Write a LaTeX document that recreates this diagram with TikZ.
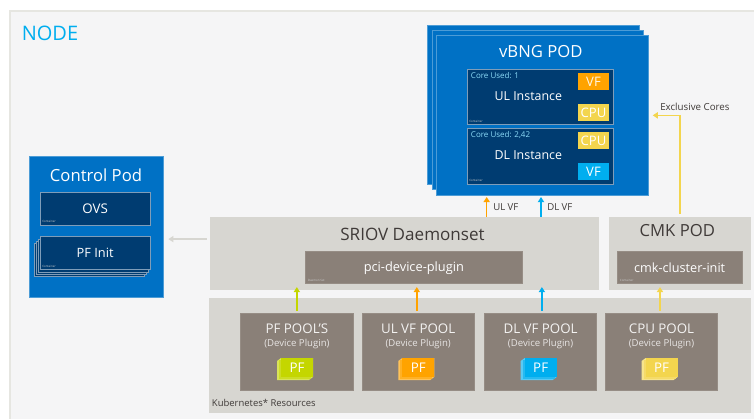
\documentclass[tikz,border=0pt]{standalone}
\usepackage{fontspec}
\setmainfont{Open Sans}
\usetikzlibrary{arrows.meta}

\definecolor{podblue}{HTML}{0071C5}
\definecolor{navy}{HTML}{003C71}
\definecolor{navyline}{HTML}{7F9DB9}
\definecolor{stone}{HTML}{D7D6D1}
\definecolor{taupe}{HTML}{8A8078}
\definecolor{frameline}{HTML}{E6E6E1}
\definecolor{nodebg}{HTML}{F5F5F6}
\definecolor{vforange}{HTML}{FFA300}
\definecolor{cpuyellow}{HTML}{F3D54E}
\definecolor{vfblue}{HTML}{00AEEF}
\definecolor{pfgreen}{HTML}{C4D600}
\definecolor{inktext}{HTML}{3F3A38}

\tikzset{
  box/.style 2 args={anchor=north west, inner sep=0pt, outer sep=0pt,
    minimum width=#1*0.75pt, minimum height=#2*0.75pt},
  txt/.style={inner sep=0pt, font=\fontsize{#1}{#1}\selectfont},
  pod/.style={fill=podblue, draw=podblue!70!white, line width=0.4pt},
  inst/.style={fill=navy, draw=navyline, line width=0.7pt, text=white},
  grey/.style={fill=taupe, draw=taupe!90!white, line width=0.4pt, text=white},
  tiny/.style={inner sep=0pt, anchor=west, font=\fontsize{2.2}{2.2}\selectfont, text=white!80!black},
  flow/.style={-{Triangle[width=4.6pt,length=3.8pt]}, line width=1.1pt},
}

\begin{document}
\begin{tikzpicture}[x=0.75pt,y=-0.75pt]

    \useasboundingbox (0,0) rectangle (754,419);
    \fill[white] (0,0) rectangle (754,419);

    % node frame
    \fill[frameline] (9,10) rectangle (754,419);
    \fill[nodebg] (11,12) rectangle (754,419);
    \node[txt=15, anchor=west, text=vfblue] (nodettl) at (21.5,33) {NODE};

    % vBNG pod
    \foreach \name/\sx/\sy in {vbngc/427.3/25,vbngb/431.8/30.4}
      \node[box={211.8}{159.3}, pod] (\name) at (\sx,\sy) {};
    \node[box={212}{159.3}, pod] (vbng) at (436.3,35.7) {};
    \node[txt=12.5, text=white] (vbngttl) at (540.8,51.7) {vBNG POD};

    \node[box={146}{55.4}, inst] (ulinst) at (467.3,69.3) {};
    \node[box={146}{55.7}, inst] (dlinst) at (467.3,128.3) {};
    \node[txt=9.3, text=white] (ulttl) at (528.3,96) {UL Instance};
    \node[txt=9.3, text=white] (dlttl) at (528.3,154.7) {DL Instance};
    \node[txt=6, anchor=west, text=vfblue!45!white] (ulcore) at (470.7,76) {Core Used: 1};
    \node[txt=6, anchor=west, text=vfblue!45!white] (dlcore) at (470.7,135) {Core Used: 2,42};
    \node[tiny] (ulcont) at (469,121.7) {Container};
    \node[tiny] (dlcont) at (469,180.3) {Container};

    \node[box={31.6}{17.3}, fill=vforange, font=\fontsize{9.8}{10}\selectfont, text=white!90!vforange] (ulvf) at (577.7,73) {VF};
    \node[box={31.6}{17.3}, fill=cpuyellow, font=\fontsize{9.8}{10}\selectfont, text=white] (ulcpu) at (577.7,103.7) {CPU};
    \node[box={31.6}{17.3}, fill=cpuyellow, font=\fontsize{9.8}{10}\selectfont, text=white] (dlcpu) at (577.7,132) {CPU};
    \node[box={31.6}{17.3}, fill=vfblue, font=\fontsize{9.8}{10}\selectfont, text=white] (dlvf) at (577.7,162.7) {VF};

    % control pod
    \node[box={134.4}{141}, pod] (ctrl) at (29.3,156.7) {};
    \node[txt=12.5, text=white] (ctrlttl) at (96,175.3) {Control Pod};
    \node[box={110.3}{33.7}, inst, font=\fontsize{10}{10}\selectfont] (ovs) at (40,192) {OVS};
    \node[tiny] (ovscont) at (42,221) {Container};
    \foreach \name/\sx/\sy in {pfinitc/34/243.7,pfinitb/36/241.4,pfinita/38/239}
      \node[box={110.3}{33}, inst, line width=0.5pt] (\name) at (\sx,\sy) {};
    \node[box={110.3}{33}, inst, font=\fontsize{9.6}{10}\selectfont] (pfinit) at (40,236.7) {PF Init};
    \node[tiny] (pfcont) at (42,266.5) {Container};

    % sriov daemonset
    \node[box={389.3}{73.3}, fill=stone] (sriov) at (209.7,216.7) {};
    \node[txt=12.8, text=inktext] (sriovttl) at (412.5,234) {SRIOV Daemonset};
    \node[box={216.3}{32}, grey, font=\fontsize{9.6}{10}\selectfont] (pci) at (305.7,251.7) {pci-device-plugin};
    \node[tiny] (pcicont) at (307.7,280.7) {Daemon Set};

    % cmk pod
    \node[box={142}{73.3}, fill=stone] (cmk) at (609,216.7) {};
    \node[txt=12.5, text=inktext] (cmkttl) at (677.3,231) {CMK POD};
    \node[box={124.7}{32.4}, grey, font=\fontsize{9.5}{10}\selectfont] (cmkinit) at (617.3,251.3) {cmk-cluster-init};
    \node[tiny] (cmkcont) at (619.7,280.7) {Container};

    % kubernetes resources
    \node[box={542}{115.6}, fill=stone] (kube) at (209,297.7) {};
    \node[txt=7.1, anchor=west, text=inktext] (kubettl) at (211.7,403.3) {Kubernetes* Resources};

    \foreach \pname/\px/\ptitle/\pcol in {poolpf/240.7/PF POOL'S/pfgreen,
        poolul/362/UL VF POOL/vforange,
        pooldl/484.4/DL VF POOL/vfblue,
        poolcpu/605.3/CPU POOL/cpuyellow} {
      \node[box={112.3}{77.4}, grey] (\pname) at (\px,313.3) {};
      \node[txt=10, text=white!90!taupe] (\pname ttl) at (\px+56.2,329) {\ptitle};
      \node[txt=7.2, text=white!80!taupe] (\pname sub) at (\px+56.2,343.7) {(Device Plugin)};
      \begin{scope}[shift={(\px+40.3,358)}]
        \fill[\pcol!65!white] (-4,3) -- (0,0) -- (32,0) -- (32,19) -- (28,22) -- (-4,22) -- cycle;
        \fill[\pcol!85!white] (-2,1.5) rectangle (30,20.5);
        \node[box={32}{18.7}, fill=\pcol, text=white, font=\fontsize{10}{10}\selectfont] (\pname chip) at (0,0) {PF};
      \end{scope}
    }

    % connectors
    \draw[flow, stone, shorten <=2.2pt, shorten >=3.5pt] ([yshift=10.7pt]sriov.west) -- ([yshift=10.7pt]sriov.west -| ctrl.east);
    \draw[flow, pfgreen, shorten <=1.9pt, shorten >=-2.2pt] (poolpf.north) -- (poolpf.north |- sriov.south);
    \draw[flow, vforange, shorten <=1.9pt, shorten >=-2.2pt] ([xshift=-1pt]poolul.north) -- ([xshift=-1pt]poolul.north |- sriov.south);
    \draw[flow, vfblue, shorten <=1.9pt, shorten >=-2.2pt] ([xshift=1pt]pooldl.north) -- ([xshift=1pt]pooldl.north |- sriov.south);
    \draw[flow, cpuyellow, shorten <=1.9pt, shorten >=-2.2pt] ([xshift=-1.1pt]poolcpu.north) -- ([xshift=-1.1pt]poolcpu.north |- cmk.south);

    \coordinate (ulport) at (486.7,216.7);
    \coordinate (dlport) at (541,216.7);
    \draw[flow, vforange, shorten >=1.5pt] (ulport) -- (ulport |- vbng.south);
    \draw[flow, vfblue, shorten >=1.5pt] (dlport) -- (dlport |- vbng.south);
    \node[txt=7.2, anchor=west, text=inktext] (ulvflbl) at (493,206.7) {UL VF};
    \node[txt=7.2, anchor=west, text=inktext] (dlvflbl) at (547,206.7) {DL VF};

    \draw[flow, cpuyellow, shorten <=2pt, shorten >=3.3pt] (cmk.north) |- (vbng.east);
    \node[txt=7.3, anchor=west, text=inktext] (corelbl) at (660,107.3) {Exclusive Cores};

  \end{tikzpicture}
\end{document}
